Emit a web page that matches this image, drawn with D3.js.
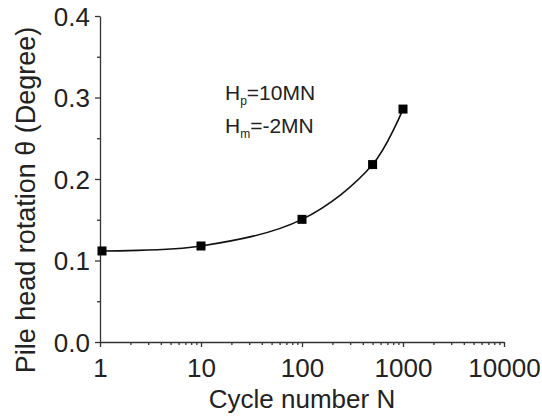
<!DOCTYPE html>
<html><head><meta charset="utf-8">
<script src="https://cdn.jsdelivr.net/npm/d3@7"></script>
<style>
html,body{margin:0;padding:0;background:#fff;}
text{font-family:"Liberation Sans",Arial,sans-serif;fill:#222;}
</style></head>
<body><svg id="c" width="542" height="419"></svg>
<script>
const cycles = [1, 10, 100, 500, 1000];
const rotation = [0.1117, 0.1178, 0.1505, 0.2177, 0.2858];
const xTicks = [1, 10, 100, 1000, 10000];
const yTicks = [0.0, 0.1, 0.2, 0.3, 0.4];
const yMinorTicks = [0.05, 0.15, 0.25, 0.35];

const svg = d3.select("#c");
const L = 100, R = 504, T = 16, B = 342;
const x = d3.scaleLog().domain([1, 10000]).range([L, R]);
const y = d3.scaleLinear().domain([0, 0.4]).range([B, T]);
const axisColor = "#333";

// minor x ticks
const xMinor = [];
for (let d = 1; d < 10000; d *= 10) for (let k = 2; k <= 9; k++) xMinor.push(d * k);

const gx = svg.append("g").attr("transform", `translate(0,${B})`);
gx.call(d3.axisBottom(x).tickValues(xMinor).tickSize(3).tickFormat(""));
gx.call(g => g.selectAll(".domain").remove());
const gx2 = svg.append("g").attr("transform", `translate(0,${B})`);
gx2.call(d3.axisBottom(x).tickValues(xTicks).tickSize(5).tickSizeOuter(0).tickPadding(6).tickFormat(d3.format("d")));
gx2.selectAll("text").attr("font-size", 26).attr("y", 35).attr("dy", null);

const gy = svg.append("g").attr("transform", `translate(${L},0)`);
gy.call(d3.axisLeft(y).tickValues(yMinorTicks).tickSize(3).tickFormat(""));
gy.call(g => g.selectAll(".domain").remove());
const gy2 = svg.append("g").attr("transform", `translate(${L},0)`);
gy2.call(d3.axisLeft(y).tickValues(yTicks).tickSize(5).tickSizeOuter(0).tickPadding(5).tickFormat(d3.format(".1f")));
gy2.selectAll("text").attr("font-size", 26).attr("dy", "0.35em");

svg.selectAll(".domain, .tick line").attr("stroke", axisColor).attr("stroke-width", 1.3);

// axis titles
svg.append("text").attr("x", 302).attr("y", 408)
  .attr("text-anchor", "middle").attr("font-size", 26).text("Cycle number N");
svg.append("text").attr("transform", `translate(35,200) rotate(-90)`)
  .attr("text-anchor", "middle").attr("font-size", 27).text("Pile head rotation θ (Degree)");

// curve
const pts = cycles.map((c, i) => [x(c), y(rotation[i])]);
svg.append("path").attr("d", d3.line().curve(d3.curveCatmullRom.alpha(0.5))(pts))
  .attr("fill", "none").attr("stroke", "#111").attr("stroke-width", 1.6);

// markers
const s = 9;
svg.selectAll("rect.m").data(cycles).enter().append("rect")
  .attr("x", (d) => x(d) - s / 2 + (d === 1 ? 2 : 0))
  .attr("y", (d, i) => y(rotation[i]) - s / 2)
  .attr("width", s).attr("height", s).attr("fill", "#000");

// annotation
const ann = svg.append("g").attr("font-size", 21);
const t1 = ann.append("text").attr("x", 225).attr("y", 100);
t1.append("tspan").text("H");
t1.append("tspan").attr("font-size", 12).attr("dy", 5).text("p");
t1.append("tspan").attr("dy", -5).text("=10MN");
const t2 = ann.append("text").attr("x", 225).attr("y", 133);
t2.append("tspan").text("H");
t2.append("tspan").attr("font-size", 12).attr("dy", 5).text("m");
t2.append("tspan").attr("dy", -5).text("=-2MN");
</script></body></html>
